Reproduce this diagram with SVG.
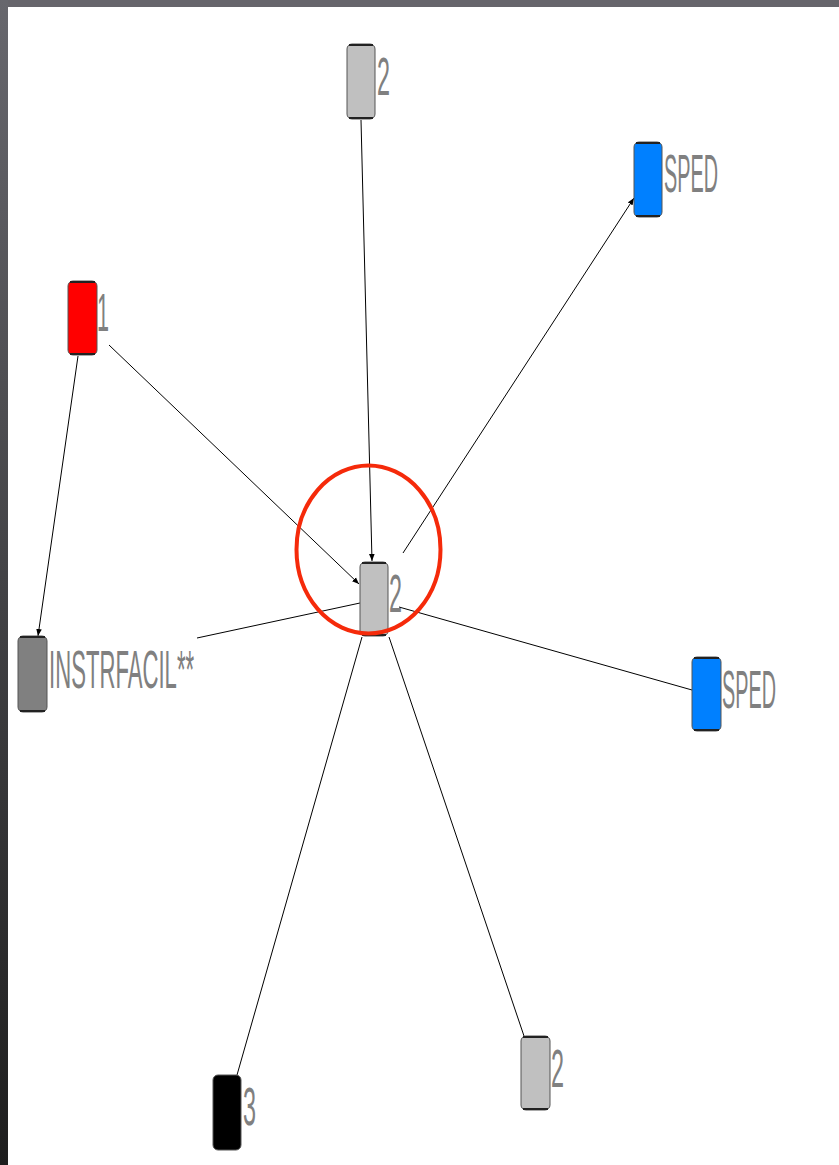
<svg xmlns="http://www.w3.org/2000/svg" width="839" height="1165" viewBox="0 0 839 1165">
<defs>
<linearGradient id="lb" x1="0" y1="0" x2="0" y2="1">
<stop offset="0" stop-color="#67676d"/>
<stop offset="1" stop-color="#1e1e1e"/>
</linearGradient>
<marker id="ar" viewBox="0 0 10 10" refX="10" refY="5" markerWidth="7" markerHeight="7" markerUnits="userSpaceOnUse" orient="auto">
<path d="M0,1 L10,5 L0,9 z" fill="#000"/>
</marker>
<style>
.nd{stroke:#555;stroke-width:1}
.ed{stroke:#000;stroke-width:1;fill:none}
.bar{stroke:#222;stroke-width:2}
.lb{font-family:"Liberation Sans",Arial,sans-serif;font-size:54px;fill:#808080}
</style>
</defs>
<rect x="0" y="0" width="839" height="1165" fill="#fff"/>
<rect x="0" y="0" width="839" height="7" fill="#66656b"/>
<rect x="0" y="0" width="8" height="1165" fill="url(#lb)"/>
<g id="edges">
<line class="ed" x1="361" y1="120" x2="372" y2="561" marker-end="url(#ar)"/>
<line class="ed" x1="109" y1="345" x2="359" y2="584" marker-end="url(#ar)"/>
<line class="ed" x1="78" y1="356" x2="38" y2="636" marker-end="url(#ar)"/>
<line class="ed" x1="403" y1="553" x2="634" y2="198" marker-end="url(#ar)"/>
<line class="ed" x1="197" y1="638" x2="360" y2="603"/>
<line class="ed" x1="399" y1="607" x2="692" y2="690"/>
<line class="ed" x1="362" y1="637" x2="237" y2="1075"/>
<line class="ed" x1="389" y1="637" x2="524" y2="1036"/>
</g>
<g id="n_top2">
<rect class="nd" x="347" y="44" width="28" height="75" rx="5" fill="#c0c0c0"/>
<line class="bar" x1="349" y1="45" x2="373" y2="45"/><line class="bar" x1="349" y1="118" x2="373" y2="118"/>
<text class="lb" transform="translate(377,95) scale(0.433,1)">2</text>
</g>
<g id="n_red1">
<rect class="nd" x="68" y="281" width="29" height="74" rx="5" fill="#ff0000"/>
<line class="bar" x1="70" y1="282" x2="95" y2="282"/><line class="bar" x1="70" y1="354" x2="95" y2="354"/>
<text class="lb" transform="translate(97,331) scale(0.4,1)">1</text>
</g>
<g id="n_sped1">
<rect class="nd" x="634" y="142" width="28" height="75" rx="5" fill="#0080ff"/>
<line class="bar" x1="636" y1="143" x2="660" y2="143"/><line class="bar" x1="636" y1="216" x2="660" y2="216"/>
<text class="lb" transform="translate(664,192) scale(0.367,1)">SPED</text>
</g>
<g id="n_center2">
<rect class="nd" x="360" y="562" width="28" height="74" rx="5" fill="#c0c0c0"/>
<line class="bar" x1="362" y1="563" x2="386" y2="563"/><line class="bar" x1="362" y1="635" x2="386" y2="635"/>
<text class="lb" transform="translate(389,612) scale(0.433,1)">2</text>
</g>
<g id="n_instr">
<rect class="nd" x="18" y="636" width="29" height="76" rx="5" fill="#808080"/>
<line class="bar" x1="20" y1="637" x2="45" y2="637"/><line class="bar" x1="20" y1="711" x2="45" y2="711"/>
<text class="lb" transform="translate(49,688) scale(0.41,1)">INSTRFACIL**</text>
</g>
<g id="n_sped2">
<rect class="nd" x="692" y="657" width="29" height="74" rx="5" fill="#0080ff"/>
<line class="bar" x1="694" y1="658" x2="719" y2="658"/><line class="bar" x1="694" y1="730" x2="719" y2="730"/>
<text class="lb" transform="translate(722,708) scale(0.367,1)">SPED</text>
</g>
<g id="n_black3">
<rect class="nd" x="213" y="1075" width="28" height="75" rx="5" fill="#000"/>
<text class="lb" transform="translate(243,1125) scale(0.433,1)">3</text>
</g>
<g id="n_bot2">
<rect class="nd" x="521" y="1036" width="29" height="74" rx="5" fill="#c0c0c0"/>
<line class="bar" x1="523" y1="1037" x2="548" y2="1037"/><line class="bar" x1="523" y1="1109" x2="548" y2="1109"/>
<text class="lb" transform="translate(551,1087) scale(0.433,1)">2</text>
</g>
<ellipse id="highlight" cx="368.5" cy="549.5" rx="72" ry="84" fill="none" stroke="#f52a0a" stroke-width="4"/>
</svg>
